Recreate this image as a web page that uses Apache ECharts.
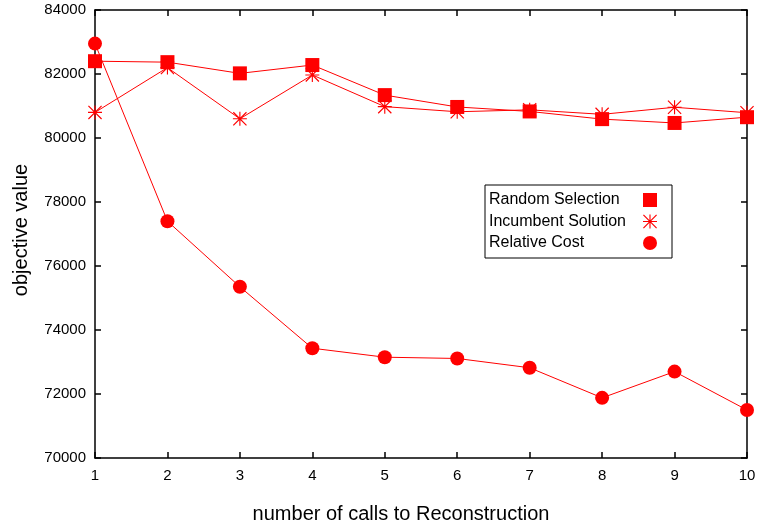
<!DOCTYPE html>
<html>
<head>
<meta charset="utf-8">
<script src="https://cdn.jsdelivr.net/npm/echarts@6/dist/echarts.min.js"></script>
<style>
  html, body { margin: 0; padding: 0; background: #fff; }
  #chart { width: 757px; height: 524px; }
</style>
</head>
<body>
<div id="chart"></div>
<script>
  // data
  const calls = [1, 2, 3, 4, 5, 6, 7, 8, 9, 10];
  const randomSelection = [82400, 82370, 82020, 82280, 81340, 80970, 80830, 80590, 80470, 80650];
  const incumbentSolution = [80800, 82200, 80600, 81970, 80980, 80820, 80880, 80740, 80960, 80790];
  const relativeCost = [82950, 77400, 75350, 73430, 73150, 73110, 72820, 71880, 72700, 71500];
  const seriesNames = ['Random Selection', 'Incumbent Solution', 'Relative Cost'];

  // gnuplot style "*" marker (+ and x together)
  const asterisk = 'path://M0 46H100V54H0Z M46 0H54V100H46Z M0 6L6 0L100 94L94 100Z M94 0L100 6L6 100L0 94Z';

  const font = "'Liberation Sans', Arial, sans-serif";
  const red = '#ff0000';

  const zip = (xs, ys) => xs.map((x, i) => [x, ys[i]]);

  const axisLine = { show: true, lineStyle: { color: '#000', width: 1.5 } };
  const axisTick = { show: true, inside: true, length: 6, lineStyle: { color: '#000', width: 1.5 } };

  const chart = echarts.init(document.getElementById('chart'));

  const mkSeries = (name, values, symbol, size) => ({
    name: name,
    type: 'line',
    data: zip(calls, values),
    symbol: symbol,
    symbolSize: size,
    lineStyle: { color: red, width: 1 },
    itemStyle: { color: red, borderWidth: 0 },
    emphasis: { disabled: true },
    z: 3
  });

  const options = {
    animation: false,
    textStyle: { fontFamily: font },
    grid: { left: 95, right: 10, top: 10, bottom: 66, containLabel: false, outerBoundsMode: 'none' },
    legend: {
      orient: 'vertical',
      left: 485,
      top: 185,
      align: 'right',
      padding: [7, 15, 7, 4],
      itemGap: 5.5,
      itemWidth: 14,
      itemHeight: 14,
      borderColor: '#000',
      borderWidth: 1,
      selectedMode: false,
      formatter: '{n|{name}}',
      textStyle: {
        color: '#000',
        fontFamily: font,
        fontSize: 16,
        rich: { n: { width: 149, align: 'left', fontSize: 16, fontFamily: font, color: '#000' } }
      },
      data: [
        { name: seriesNames[0], icon: 'rect' },
        { name: seriesNames[1], icon: asterisk },
        { name: seriesNames[2], icon: 'circle' }
      ]
    },
    xAxis: [
      {
        type: 'value',
        position: 'bottom',
        min: 1,
        max: 10,
        interval: 1,
        name: 'number of calls to Reconstruction',
        nameLocation: 'middle',
        nameGap: 46,
        nameTextStyle: { fontSize: 20, color: '#000', fontFamily: font, padding: [0, 40, 0, 0] },
        axisLine: axisLine,
        axisTick: axisTick,
        axisLabel: { fontSize: 15, color: '#000', margin: 10, fontFamily: font },
        splitLine: { show: false }
      },
      {
        type: 'value',
        position: 'top',
        min: 1,
        max: 10,
        interval: 1,
        axisLine: axisLine,
        axisTick: axisTick,
        axisLabel: { show: false },
        splitLine: { show: false }
      }
    ],
    yAxis: [
      {
        type: 'value',
        position: 'left',
        min: 70000,
        max: 84000,
        interval: 2000,
        name: 'objective value',
        nameLocation: 'middle',
        nameGap: 64,
        nameTextStyle: { fontSize: 20, color: '#000', fontFamily: font, padding: [0, 0, 0, 8] },
        axisLine: axisLine,
        axisTick: axisTick,
        axisLabel: { fontSize: 15, color: '#000', margin: 9, fontFamily: font, formatter: (v) => String(v) },
        splitLine: { show: false }
      },
      {
        type: 'value',
        position: 'right',
        min: 70000,
        max: 84000,
        interval: 2000,
        axisLine: axisLine,
        axisTick: axisTick,
        axisLabel: { show: false },
        splitLine: { show: false }
      }
    ],
    series: [
      mkSeries(seriesNames[0], randomSelection, 'rect', 14),
      mkSeries(seriesNames[1], incumbentSolution, asterisk, 14),
      mkSeries(seriesNames[2], relativeCost, 'circle', 14)
    ]
  };

  chart.setOption(options);
</script>
</body>
</html>
